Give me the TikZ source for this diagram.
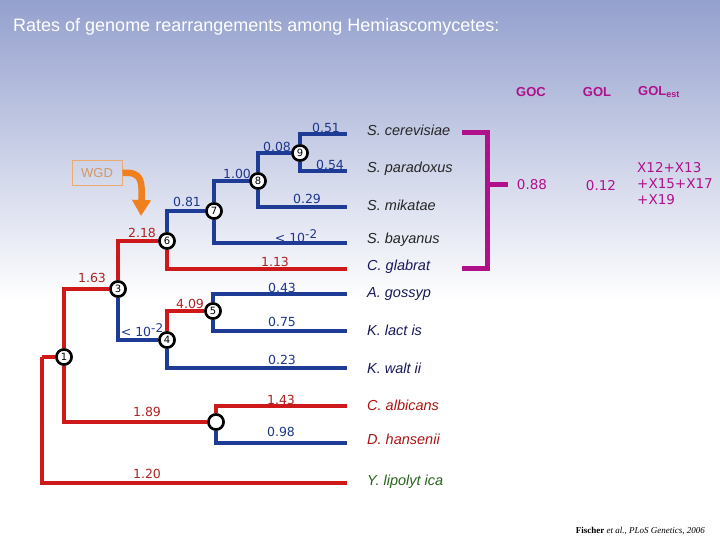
\documentclass[tikz,border=0pt]{standalone}
\usepackage{fontspec}
\usepackage{xcolor}
\usetikzlibrary{arrows.meta}
\setmainfont{Liberation Sans}
\newfontfamily\numfont{DejaVu Sans}
\newfontfamily\citefont{Liberation Serif}
\definecolor{bgtop}{RGB}{148,160,206}
\definecolor{redbr}{RGB}{205,25,25}
\definecolor{bluebr}{RGB}{30,60,150}
\definecolor{redlab}{RGB}{175,35,35}
\definecolor{bluelab}{RGB}{30,55,140}
\definecolor{goc}{RGB}{176,16,138}
\definecolor{wgdorange}{RGB}{240,128,30}
\definecolor{wgdbox}{RGB}{235,170,110}
\definecolor{spnavy}{RGB}{25,25,90}
\definecolor{spred}{RGB}{170,20,20}
\definecolor{spgreen}{RGB}{40,100,30}
\tikzset{
  redbranch/.style={draw=redbr,line width=3.5pt},
  bluebranch/.style={draw=bluebr,line width=3.5pt},
  treenode/.style={circle,draw=black,fill=white,line width=2.5pt,minimum size=15pt,inner sep=0pt,font=\numfont\fontsize{10}{10}\selectfont},
  redlabel/.style={text=redlab,font=\numfont\fontsize{12.5}{13}\selectfont,inner sep=0pt},
  bluelabel/.style={text=bluelab,font=\numfont\fontsize{12.5}{13}\selectfont,inner sep=0pt},
  species/.style={anchor=west,font=\itshape\fontsize{14.5}{14.5}\selectfont,inner sep=0pt},
  goclabel/.style={text=goc,font=\numfont\fontsize{13.5}{16}\selectfont,inner sep=0pt,align=left},
  gochead/.style={text=goc,font=\bfseries\fontsize{13}{13}\selectfont,inner sep=0pt}
}
\newcommand{\tenminus}{< 10\raisebox{4pt}{\fontsize{12}{12}\selectfont -2}}
\begin{document}
\begin{tikzpicture}[x=1pt,y=-1pt]
\useasboundingbox (0,0) rectangle (720,540);
% background
\shade[top color=bgtop,bottom color=white] (0,0) rectangle (720,300);
\fill[white] (0,300) rectangle (720,540);
\node[anchor=west,text=white,font=\fontsize{18}{18}\selectfont,inner sep=0pt] (title) at (13,27) {Rates of genome rearrangements among Hemiascomycetes:};

% tree nodes
\coordinate (r0) at (42,357);
\node[treenode] (n1) at (64,357) {1};
\node[treenode] (n2) at (216,422) {};
\node[treenode] (n3) at (118,289) {3};
\node[treenode] (n4) at (167,340) {4};
\node[treenode] (n5) at (213,311) {5};
\node[treenode] (n6) at (167,241) {6};
\node[treenode] (n7) at (214,211) {7};
\node[treenode] (n8) at (258,181) {8};
\node[treenode] (n9) at (300,153) {9};
% leaf ends
\coordinate (l1) at (347,134);
\coordinate (l2) at (347,171);
\coordinate (l3) at (347,207);
\coordinate (l4) at (347,243);
\coordinate (l5) at (347,269);
\coordinate (l6) at (347,294);
\coordinate (l7) at (347,331);
\coordinate (l8) at (347,368);
\coordinate (l9) at (347,406);
\coordinate (l10) at (347,443);
\coordinate (l11) at (347,483);

% branches
\draw[redbranch] (r0) -- (n1);
\draw[redbranch] (r0) |- (l11);
\draw[redbranch] (n1) |- (n3);
\draw[redbranch] (n1) |- (n2);
\draw[redbranch] (n3) |- (n6);
\draw[bluebranch] (n3) |- (n4);
\draw[bluebranch] (n6) |- (n7);
\draw[redbranch] (n6) |- (l5);
\draw[bluebranch] (n7) |- (n8);
\draw[bluebranch] (n7) |- (l4);
\draw[bluebranch] (n8) |- (n9);
\draw[bluebranch] (n8) |- (l3);
\draw[bluebranch] (n9) |- (l1);
\draw[bluebranch] (n9) |- (l2);
\draw[redbranch] (n4) |- (n5);
\draw[bluebranch] (n4) |- (l8);
\draw[bluebranch] (n5) |- (l6);
\draw[bluebranch] (n5) |- (l7);
\draw[redbranch] (n2) |- (l9);
\draw[bluebranch] (n2) |- (l10);

% redraw nodes on top
\foreach \n/\t in {n1/1,n3/3,n4/4,n5/5,n6/6,n7/7,n8/8,n9/9}
  \node[treenode] at (\n) {\t};
\node[treenode] at (n2) {};

% branch lengths
\node[redlabel] (b13) at (92,278) {1.63};
\node[redlabel] (b12) at (147,412) {1.89};
\node[redlabel] (b0) at (147,474) {1.20};
\node[redlabel] (b36) at (142,233) {2.18};
\node[bluelabel] (b34) at (142,330) {\tenminus};
\node[redlabel] (b45) at (190,304) {4.09};
\node[bluelabel] (b4l) at (282,360) {0.23};
\node[bluelabel] (b5a) at (282,288) {0.43};
\node[bluelabel] (b5b) at (282,322) {0.75};
\node[redlabel] (b6l) at (275,262) {1.13};
\node[bluelabel] (b67) at (187,202) {0.81};
\node[bluelabel] (b7l) at (296,236) {\tenminus};
\node[bluelabel] (b78) at (237,174) {1.00};
\node[bluelabel] (b8l) at (307,199) {0.29};
\node[bluelabel] (b89) at (277,147) {0.08};
\node[bluelabel] (b9a) at (326,128) {0.51};
\node[bluelabel] (b9b) at (330,165) {0.54};
\node[redlabel] (b2a) at (281,400) {1.43};
\node[bluelabel] (b2b) at (281,432) {0.98};

% species
\node[species,text=black!85] (sp1) at (367,130) {S. cerevisiae};
\node[species,text=black!85] (sp2) at (367,169) {S. paradoxus};
\node[species,text=black!85] (sp3) at (367,205) {S. mikatae};
\node[species,text=black!85] (sp4) at (367,240) {S. bayanus};
\node[species,text=spnavy] (sp5) at (367,267) {C. glabrat};
\node[species,text=spnavy] (sp6) at (367,294) {A. gossyp};
\node[species,text=spnavy] (sp7) at (367,330) {K. lact is};
\node[species,text=spnavy] (sp8) at (367,368) {K. walt ii};
\node[species,text=spred] (sp9) at (367,405) {C. albicans};
\node[species,text=spred] (sp10) at (367,439) {D. hansenii};
\node[species,text=spgreen] (sp11) at (367,482) {Y. lipolyt ica};

% WGD
\node[draw=wgdbox,text=wgdbox!90!black,line width=1pt,minimum width=50pt,minimum height=25pt,font=\fontsize{13}{13}\selectfont] (wgd) at (97,173) {WGD};
\coordinate (wgdtip) at (141,216);
\draw[wgdorange,line width=6.5pt,-{Triangle[width=18pt,length=16pt]}] (wgd.east) .. controls (143,171) and (142,183) .. (wgdtip);

% Saccharomyces bracket
\draw[goc,line width=5pt] (462,133) -- (487,133) -- (487,268) -- (462,268);
\coordinate (brmid) at (487,185);
\draw[goc,line width=5pt] (brmid) -- ++(21,0);

% GOC / GOL columns
\node[gochead] (hgoc) at (531,92) {GOC};
\node[gochead] (hgol) at (597,92) {GOL};
\node[gochead,anchor=west] (hgolest) at (638,92) {GOL\textsubscript{\fontsize{9}{9}\selectfont est}};
\node[goclabel] (vgoc) at (532,185) {0.88};
\node[goclabel] (vgol) at (601,186) {0.12};
\node[goclabel,anchor=west] (vgolest) at (637,184) {X12+X13\\+X15+X17\\+X19};

% reference
\node[anchor=east,font=\citefont\fontsize{9}{9}\selectfont,inner sep=0pt] (cite) at (705,531) {\textbf{Fischer} \textit{et al., PLoS Genetics, 2006}};
\end{tikzpicture}
\end{document}
